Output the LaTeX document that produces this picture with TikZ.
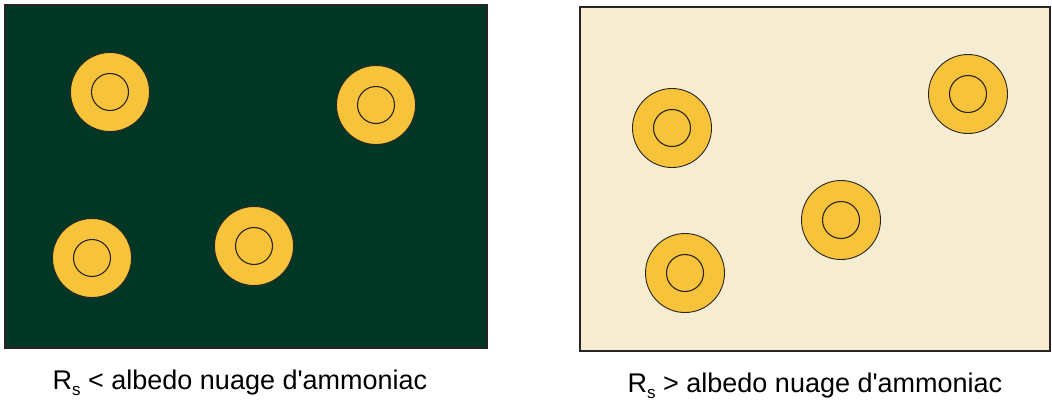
\documentclass[tikz,border=0pt]{standalone}
\usepackage{fontspec}
\setmainfont{Liberation Sans}
\usepackage{tikz}
\usetikzlibrary{positioning}
\usepackage{xcolor}
\definecolor{darkfield}{RGB}{2,55,38}
\definecolor{lightfield}{RGB}{245,236,209}
\definecolor{grain}{RGB}{247,195,58}
\definecolor{edge}{RGB}{40,36,36}
\newcommand{\Rsub}{R\raisebox{-0.22em}{\fontsize{17}{17}\selectfont s}}

\begin{document}
\begin{tikzpicture}[x=1pt,y=-1pt,
    panel/.style={draw=edge,line width=1.4pt},
    grainout/.style={circle,draw=edge,line width=0.9pt,fill=grain,minimum size=79pt,inner sep=0pt},
    grainin/.style={circle,draw=edge,line width=1.1pt,minimum size=37pt,inner sep=0pt},
    caption/.style={font=\fontsize{27}{32}\selectfont,inner sep=0pt}]
    \useasboundingbox (0,0) rectangle (1052,405);
    % left panel
    \draw[panel,fill=darkfield] (5,5) rectangle (487,348);
    % right panel
    \draw[panel,fill=lightfield] (580,7) rectangle (1050,351);
    % grains
    \foreach \x/\y [count=\i] in {110/92,376/105,92/258,254/246,672/128,968/94,841/220,685/273}{
        \node[grainout] (g\i) at (\x,\y) {};
        \node[grainin] (c\i) at (g\i.center) {};
    }
    \node[caption] (capl) at (240,383) {\Rsub\ < albedo nuage d\textquotesingle ammoniac};
    \node[caption] (capr) at (815,386) {\Rsub\ > albedo nuage d\textquotesingle ammoniac};
\end{tikzpicture}
\end{document}
